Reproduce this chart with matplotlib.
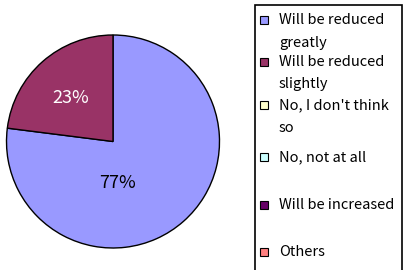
import matplotlib
matplotlib.use("Agg")
import matplotlib.pyplot as plt
from matplotlib.patches import Rectangle

plt.rcParams['font.family'] = ['Noto Sans CJK JP', 'DejaVu Sans']

categories = ["Will be reduced\ngreatly", "Will be reduced\nslightly", "No, I don't think\nso",
              "No, not at all", "Will be increased", "Others"]
values = [77, 23, 0, 0, 0, 0]
colors = ["#9999FF", "#993366", "#FFFFCC", "#CCFFFF", "#660066", "#FF8080"]
label_colors = ["black", "white"]
label_pos = [(0.04, -0.39), (-0.40, 0.41)]

W, H = 406, 270
fig = plt.figure(figsize=(W / 100, H / 100), dpi=100)

cx, cy, r = 113, 141.5, 106.5
ax = fig.add_axes([(cx - r) / W, (H - cy - r) / H, 2 * r / W, 2 * r / H])
nz = [(v, c) for v, c in zip(values, colors) if v > 0]
wedges, texts = ax.pie([v for v, c in nz], colors=[c for v, c in nz], startangle=90,
                       counterclock=False,
                       wedgeprops=dict(edgecolor="black", linewidth=1.0))
for (v, c), tc, (px, py) in zip(nz, label_colors, label_pos):
    ax.text(px, py, f"{v}%", ha="center", va="center", color=tc, fontsize=13)
ax.set_xlim(-1, 1)
ax.set_ylim(-1, 1)
ax.set_aspect("auto")

# legend box
lx0, ly0, lx1, ly1 = 255, 5, 402, 272
fig.patches.append(Rectangle((lx0 / W, 1 - ly1 / H), (lx1 - lx0) / W, (ly1 - ly0) / H,
                             transform=fig.transFigure, facecolor="white",
                             edgecolor="black", linewidth=1.2))
entry_y = [20, 62, 105, 157, 205, 252]
line_h = 22.5
for cat, col, yy in zip(categories, colors, entry_y):
    s = 8
    fig.patches.append(Rectangle(((264 - s / 2) / W, 1 - (yy + s / 2) / H), s / W, s / H,
                                 transform=fig.transFigure, facecolor=col,
                                 edgecolor="black", linewidth=0.8))
    for i, line in enumerate(cat.split("\n")):
        fig.text(279 / W, 1 - (yy + i * line_h) / H, line, ha="left", va="center",
                 fontsize=10.5)

fig.savefig("out.png", dpi=100)
